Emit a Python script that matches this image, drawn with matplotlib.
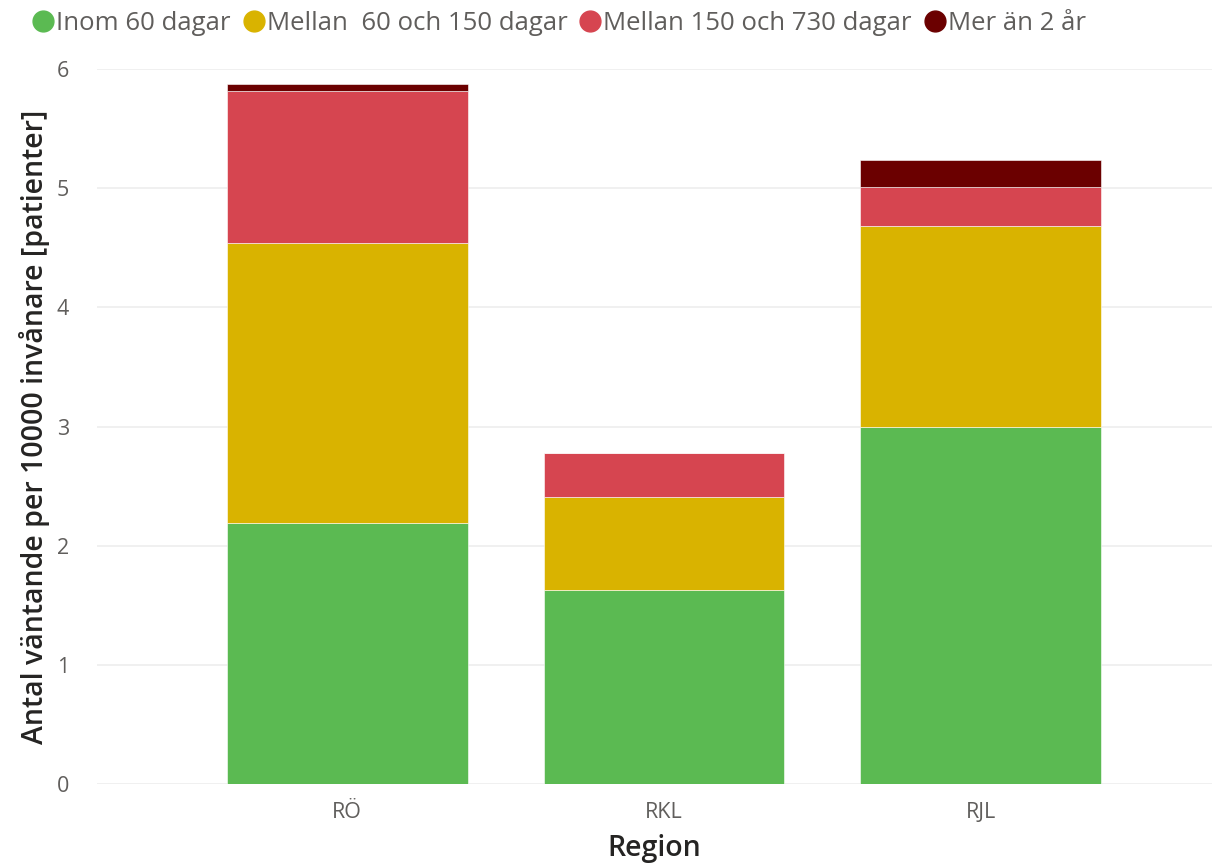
import matplotlib
matplotlib.use("Agg")
from matplotlib import pyplot as plt
from matplotlib.lines import Line2D
import numpy as np

regions = ["RÖ", "RKL", "RJL"]
inom_60 = [2.19, 1.63, 3.00]
mellan_60_150 = [2.35, 0.78, 1.68]
mellan_150_730 = [1.275, 0.37, 0.335]
mer_2_ar = [0.06, 0.0, 0.22]

series_labels = ["Inom 60 dagar", "Mellan  60 och 150 dagar",
                 "Mellan 150 och 730 dagar", "Mer än 2 år"]
colors = ["#5BBA52", "#D9B300", "#D64550", "#6B0000"]

plt.rcParams['font.family'] = ['Open Sans', 'DejaVu Sans']

fig = plt.figure(figsize=(12.12, 8.66), dpi=100)
ax = fig.add_axes([0.080, 0.095, 0.92, 0.825])

x = np.arange(len(regions))
bottom = np.zeros(len(regions))
for vals, col in zip([inom_60, mellan_60_150, mellan_150_730, mer_2_ar], colors):
    ax.bar(x, vals, width=0.76, bottom=bottom, color=col, edgecolor="white", linewidth=0.4)
    bottom += np.array(vals)

ax.set_ylim(0, 6)
ax.set_xlim(-0.79, 2.73)
ax.set_yticks(range(7))
ax.set_xticks(x)
ax.set_xticklabels(regions)
ax.tick_params(length=0, labelsize=15.5, colors="#605E5C", pad=13)
ax.tick_params(axis="y", pad=20)
ax.grid(axis="y", color="#EDEDED", linewidth=1.2)
ax.set_axisbelow(True)
for s in ax.spines.values():
    s.set_visible(False)

ax.set_ylabel("Antal väntande per 10000 invånare [patienter]", fontsize=20.5,
              color="#252423", fontweight="semibold", labelpad=5)
ax.set_xlabel("Region", fontsize=20.5, color="#252423", fontweight="semibold", labelpad=8)

handles = [Line2D([0], [0], marker="o", linestyle="", markersize=15,
                  markerfacecolor=c, markeredgecolor=c) for c in colors]
fig.legend(handles, series_labels, loc="upper left", bbox_to_anchor=(0.006, 1.014),
           ncol=4, frameon=False, fontsize=18.5, handletextpad=0.0,
           columnspacing=0.4, handlelength=1.0, labelcolor="#605E5C")

fig.savefig("out.png", dpi=100)
